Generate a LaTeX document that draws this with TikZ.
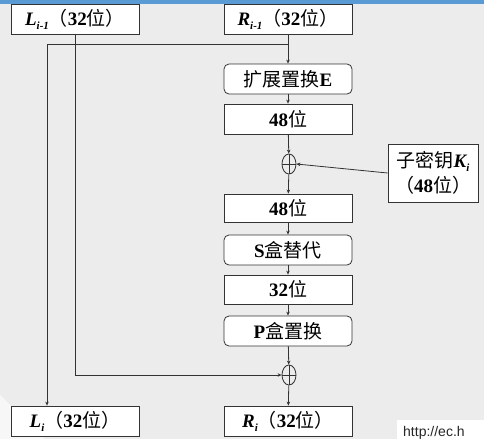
\documentclass[tikz,border=0pt]{standalone}
\usepackage{fontspec}
\setmainfont{Liberation Serif}
\newfontfamily\cjk{Noto Sans CJK SC}
\newfontfamily\urlfont{Liberation Sans}
\usetikzlibrary{arrows.meta,shapes.geometric}
\newcommand{\zh}[1]{{\cjk\mdseries #1}}
\newcommand{\Var}[2]{{\bfseries\itshape #1}\raisebox{-0.45ex}{\fontsize{11}{11}\selectfont\bfseries\itshape #2}}
\definecolor{bgc}{HTML}{ECECEC}
\definecolor{barc}{HTML}{5B9BD5}
\definecolor{linec}{HTML}{333333}
\tikzset{
  box/.style={draw=linec, line width=0.8pt, fill=white, minimum width=128pt, minimum height=30pt, inner sep=0pt, font=\fontsize{19}{21}\selectfont\bfseries},
  rbox/.style={box, rounded corners=5pt},
  arr/.style={draw=linec, line width=0.8pt, -{Stealth[length=4pt,width=3.5pt]}},
  xor/.style={ellipse, draw=linec, line width=0.8pt, minimum width=14pt, minimum height=20pt, inner sep=0pt,
    path picture={\draw[linec, line width=0.8pt] (path picture bounding box.north) -- (path picture bounding box.south)
      (path picture bounding box.west) -- (path picture bounding box.east);}}
}
\begin{document}
\begin{tikzpicture}[x=1pt,y=-1pt]
\useasboundingbox (0,0) rectangle (484,439);
\fill[bgc] (0,0) rectangle (484,439);
\fill[white!60!bgc] (0,395) -- (45,439) -- (0,439) -- cycle;
\fill[barc] (0,0) rectangle (484,4);

\node[box] (Lm1) at (75,19) {\Var{L}{i-1}\zh{（}32\zh{位）}};
\node[box] (Rm1) at (288,19) {\Var{R}{i-1}\zh{（}32\zh{位）}};
\node[rbox] (E) at (288,79) {\zh{扩展置换}E};
\node[box] (b48a) at (288,119) {48\zh{位}};
\node[xor] (x1) at (289,164) {};
\node[box, minimum width=90pt, minimum height=58pt, align=center, font=\fontsize{19}{25}\selectfont\bfseries] (K) at (433,173)
  {\zh{子密钥}\Var{K}{i}\\\zh{（}48\zh{位）}};
\node[box, minimum height=28pt] (b48b) at (288,208) {48\zh{位}};
\node[rbox] (S) at (288,250) {S\zh{盒替代}};
\node[box, minimum height=29pt] (b32) at (288,289.5) {32\zh{位}};
\node[rbox] (P) at (288,331) {P\zh{盒置换}};
\node[xor] (x2) at (289,375) {};
\node[box] (Li) at (75,421) {\Var{L}{i}\zh{（}32\zh{位）}};
\node[box] (Ri) at (288,421) {\Var{R}{i}\zh{（}32\zh{位）}};

\coordinate (sp) at (288,44);
\draw[arr] (Rm1.south) -- (E.north);
\draw[arr] (sp) -| ([xshift=-28pt]Li.north);
\draw[arr] (E) -- (b48a);
\draw[arr] (b48a) -- (x1);
\draw[arr] (x1) -- (b48b);
\draw[arr] (K.west) -- (x1.east);
\draw[arr] (b48b) -- (S);
\draw[arr] (S) -- (b32);
\draw[arr] (b32) -- (P);
\draw[arr] (P) -- (x2);
\draw[arr] (x2) -- (Ri);
\draw[arr] (Lm1.south) |- (x2.west);

\fill[white] (397,420) rectangle (484,439);
\node[anchor=base west, inner sep=0pt, font=\urlfont\fontsize{14}{14}\selectfont, text=black!85] (url) at (403,436) {http://ec.h};
\end{tikzpicture}
\end{document}
